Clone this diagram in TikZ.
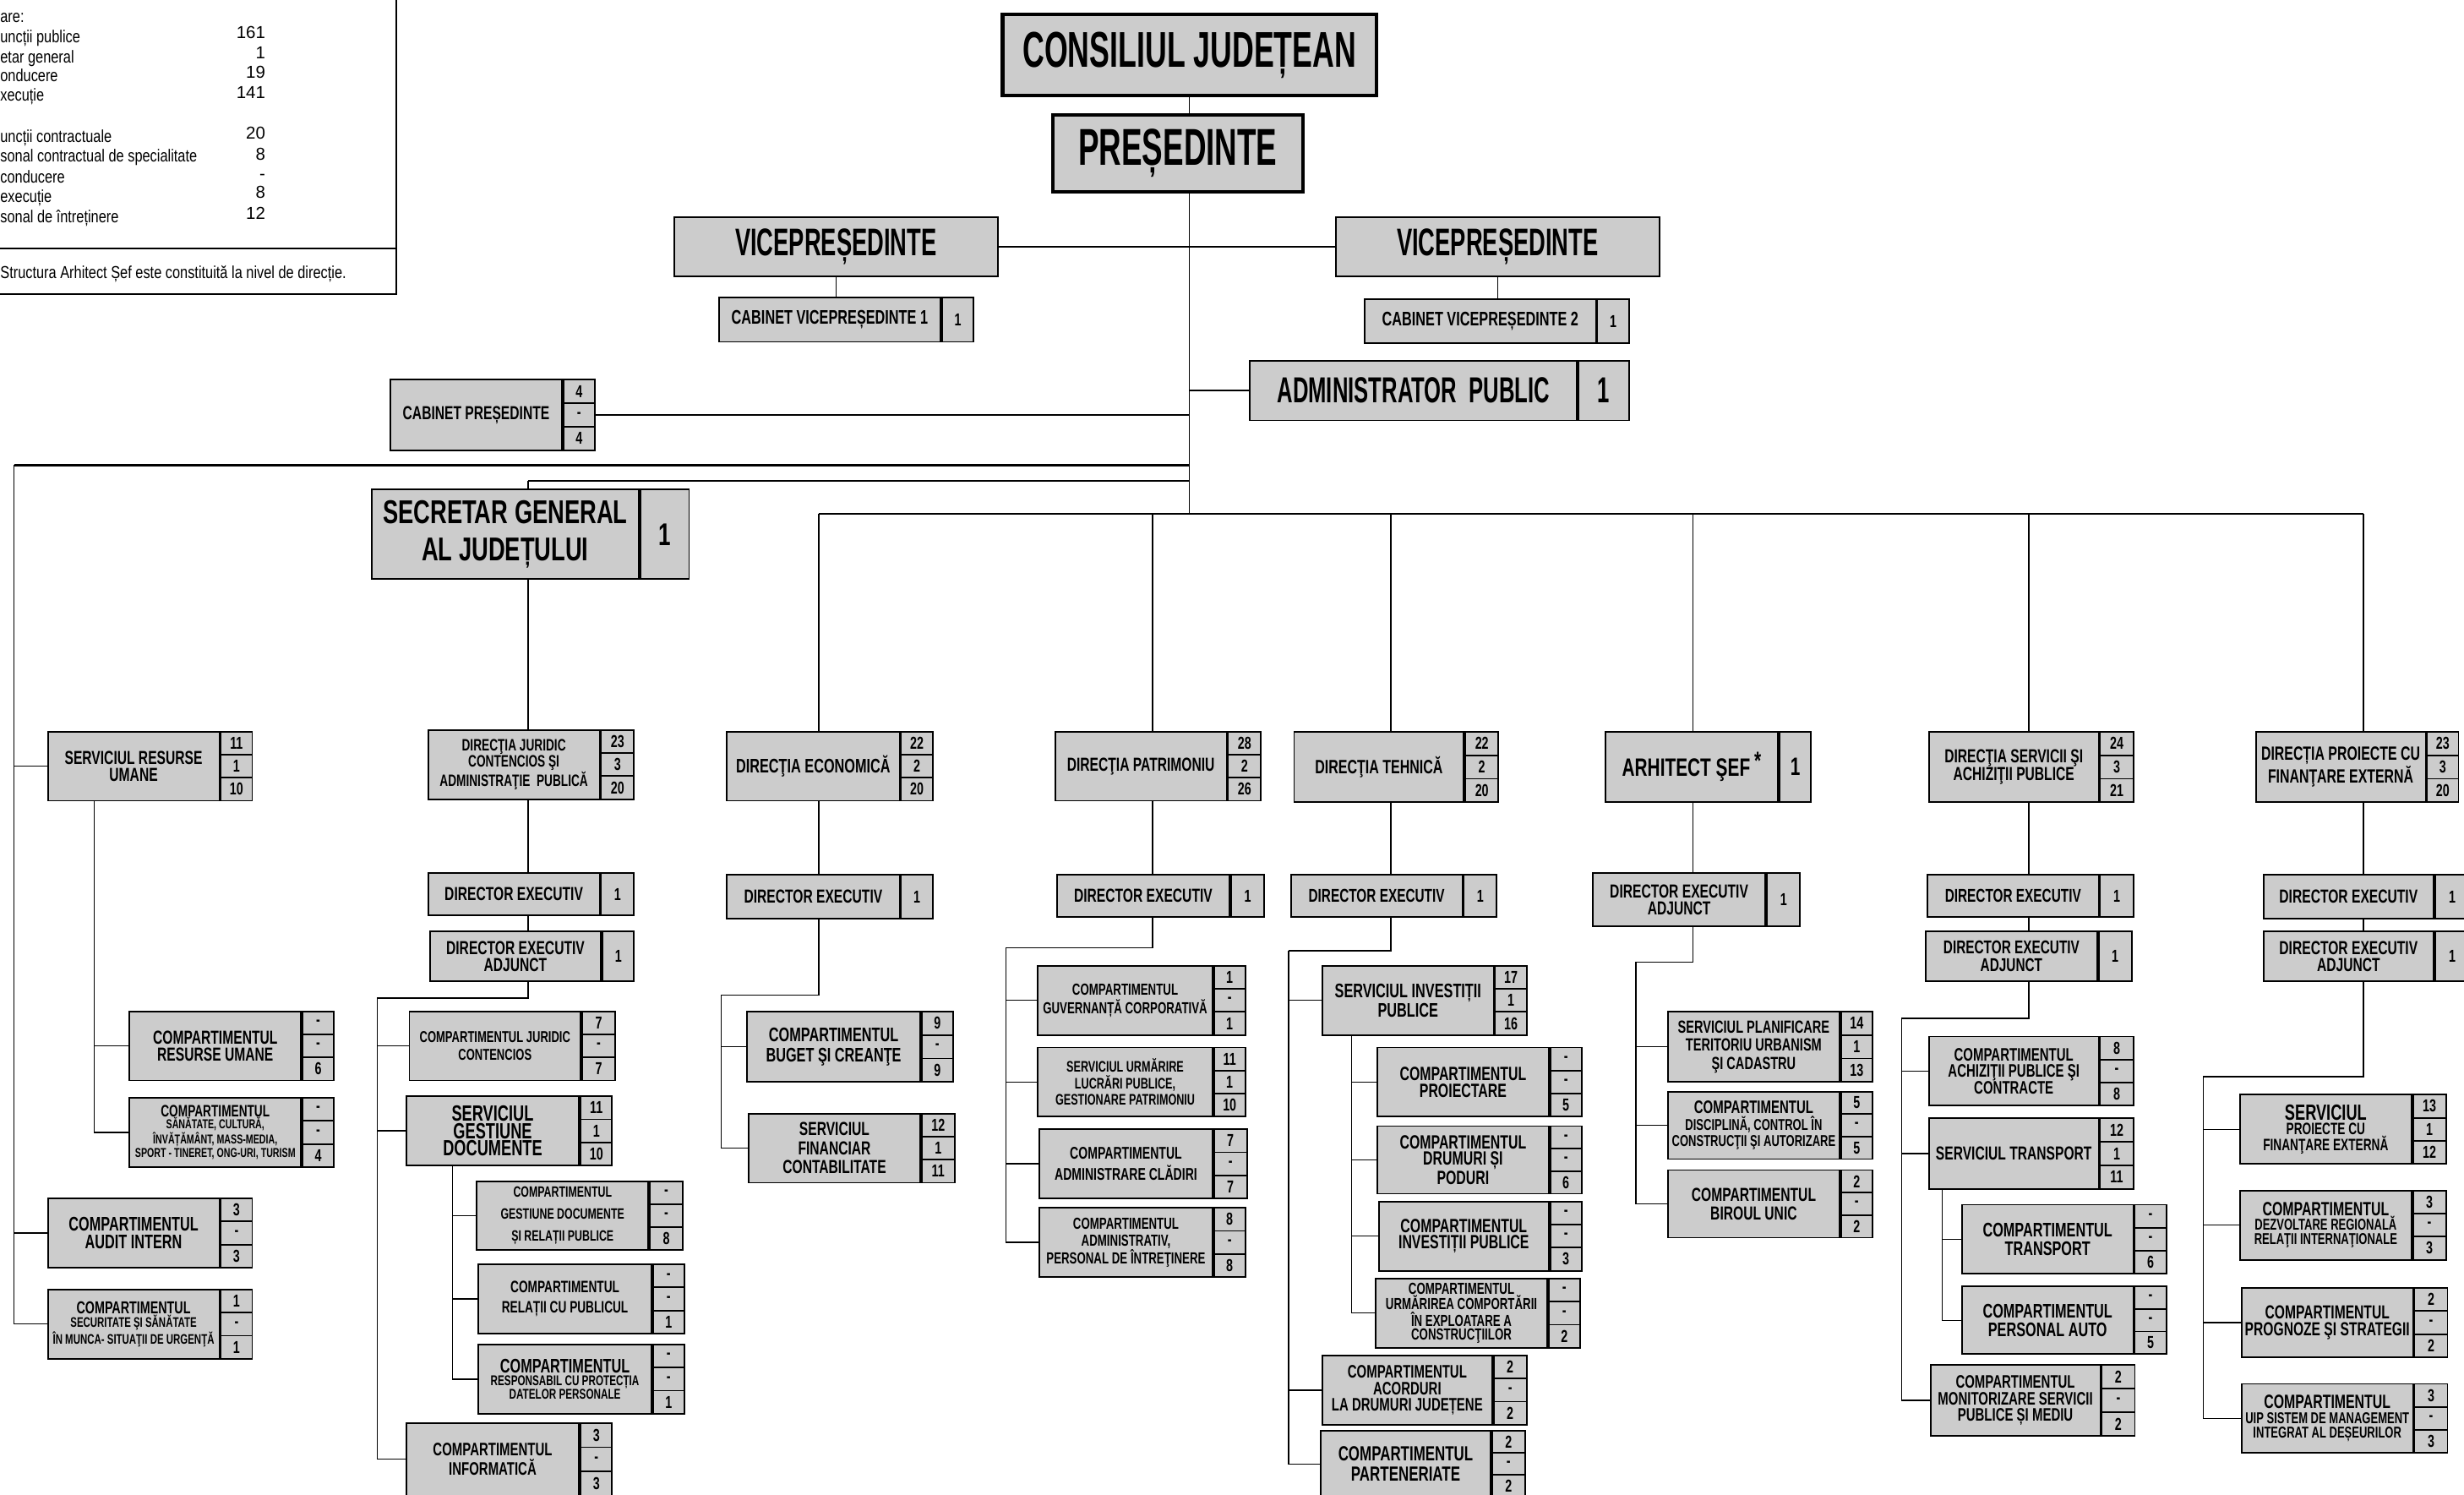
\documentclass[tikz,border=0pt]{standalone}
\usepackage{fontspec}
\setmainfont{Liberation Sans}
\newfontfamily\hdfont[FakeStretch=0.6]{Liberation Sans}
\newfontfamily\bxfont[FakeStretch=0.7]{Liberation Sans}
\newfontfamily\lgfont[FakeStretch=0.8]{Liberation Sans}
\usetikzlibrary{calc}
\definecolor{boxgray}{RGB}{204,204,204}
\pgfdeclarelayer{bg}
\pgfsetlayers{bg,main}

% name, left, top, label width, number width, height, options, text, numbers
\newcommand{\orgunit}[9]{%
  \pgfmathsetmacro\twd{#4-2}%
  \node[unit,#7,anchor=north west,minimum width=#4pt,minimum height=#6pt,text width=\twd pt] (#1) at (#2,#3) {#8};
  \foreach \nm [count=\i] in {#9} {\xdef\ncell{\i}}%
  \pgfmathsetmacro\cellh{#6/\ncell}%
  \foreach \nm [count=\i] in {#9} {%
    \node[numcell,anchor=north west,minimum width=#5pt,minimum height=\cellh pt] (#1-\i) at ($(#1.north east)+(0,{(\i-1)*\cellh})$) {\nm};
  }%
}

\begin{document}
\begin{tikzpicture}[x=1pt,y=-1pt]
\tikzstyle{unit} = [draw, fill=boxgray, line width=1pt, inner sep=1pt, align=flush center, font=\bxfont\bfseries\fontsize{11}{11}\selectfont]
\tikzstyle{numcell} = [draw, fill=boxgray, line width=1pt, inner sep=0pt, font=\bxfont\bfseries\fontsize{11}{11}\selectfont]
\tikzstyle{conn} = [line width=0.7pt]
\tikzstyle{bus} = [line width=1.1pt]
\tikzstyle{lgtext} = [inner sep=0pt, font=\lgfont\fontsize{11}{11}\selectfont]
\tikzstyle{lgnum} = [inner sep=0pt, font=\fontsize{11}{11}\selectfont]
\tikzset{fz/.style 2 args={font=\bxfont\bfseries\fontsize{#1}{#2}\selectfont},
  hd/.style 2 args={font=\hdfont\bfseries\fontsize{#1}{#2}\selectfont}}

\path[use as bounding box] (0,0) rectangle (1568,951);
\clip (0,0) rectangle (1568,951);

% legenda
\draw[line width=1pt] (-2,158) -- (252,158);
\draw[line width=1pt] (-2,187) -- (252,187) -- (252,-2);
\node[lgtext, anchor=base west] (lg1) at (0,14.3) {are:};
\node[lgtext, anchor=base west] (lg2) at (0,26.9) {uncții publice};
\node[lgtext, anchor=base west] (lg3) at (0,40.3) {etar general};
\node[lgtext, anchor=base west] (lg4) at (0,52) {onducere};
\node[lgtext, anchor=base west] (lg5) at (0,64.5) {xecuție};
\node[lgtext, anchor=base west] (lg6) at (0,90.5) {uncții contractuale};
\node[lgtext, anchor=base west] (lg7) at (0,103) {sonal contractual de specialitate};
\node[lgtext, anchor=base west] (lg8) at (0,116.5) {conducere};
\node[lgtext, anchor=base west] (lg9) at (0,128.7) {execuție};
\node[lgtext, anchor=base west] (lg10) at (0,141.6) {sonal de întreținere};
\foreach \v/\y [count=\k] in {161/24.2, 1/37.6, 19/50, 141/62.7, 20/88.7, 8/101.8, -/114.5, 8/126.3, 12/139.4}
  \node[lgnum, anchor=base east] (lgn\k) at (169,\y) {\v};
\node[lgtext, anchor=base west] (lgnote) at (0,177.4) {Structura Arhitect Șef este constituită la nivel de direcție.};

% conducere
\node[unit, hd={32}{32}, line width=2.2pt, minimum width=238pt, minimum height=52pt] (cj) at (757,35) {CONSILIUL JUDEȚEAN};
\node[unit, hd={33}{33}, line width=2.2pt, minimum width=159pt, minimum height=49pt] (pres) at (749.5,97.5) {PREȘEDINTE};
\node[unit, hd={24.5}{24.5}, line width=1.2pt, minimum width=206pt, minimum height=38pt] (vpa) at (532,157) {VICEPREȘEDINTE};
\node[unit, hd={24.5}{24.5}, line width=1.2pt, minimum width=206pt, minimum height=38pt] (vpb) at (953,157) {VICEPREȘEDINTE};
\orgunit{cabvp1}{457}{189}{141}{20}{28}{fz={12.5}{12}}{CABINET VICEPREȘEDINTE 1}{1}
\orgunit{cabvp2}{868}{190}{147}{20}{28}{fz={12.5}{12}}{CABINET VICEPREȘEDINTE 2}{1}
\orgunit{admpub}{795}{229}{208}{32}{38}{hd={23}{23}}{ADMINISTRATOR\ \ PUBLIC}{{\hdfont\bfseries\fontsize{23}{23}\selectfont 1}}
\orgunit{cabpres}{248}{241}{109}{20}{45}{fz={12}{12}}{CABINET PREȘEDINTE}{4,-,4}
\orgunit{sg}{236}{311}{170}{31}{57}{fz={21}{24}}{SECRETAR GENERAL\\AL JUDEȚULUI}{{\fontsize{20}{20}\selectfont 1}}

% resurse umane, audit
\orgunit{sru}{30}{465}{109}{20}{44}{fz={12}{11}}{SERVICIUL RESURSE\\UMANE}{11,1,10}
\orgunit{crum}{82}{643}{109}{20}{44}{fz={12}{11}}{COMPARTIMENTUL\\RESURSE UMANE}{-,-,6}
\orgunit{csan}{82}{698}{109}{20}{44}{fz={10.5}{9}}{COMPARTIMENTUL\par{\fontsize{8.2}{7.5}\selectfont SĂNĂTATE, CULTURĂ,\\ÎNVĂȚĂMÂNT, MASS-MEDIA,\\SPORT - TINERET, ONG-URI, TURISM\par}}{-,-,4}
\orgunit{audit}{30}{762}{109}{20}{44}{fz={12.5}{11}}{COMPARTIMENTUL\\AUDIT INTERN}{3,-,3}
\orgunit{secur}{30}{820}{109}{20}{44}{fz={11}{10}}{COMPARTIMENTUL\par{\fontsize{8.8}{8.5}\selectfont SECURITATE ŞI SĂNĂTATE\\ÎN MUNCA- SITUAŢII DE URGENŢĂ\par}}{1,-,1}

% secretar general
\orgunit{dj}{272}{464}{109}{21}{44}{fz={10.5}{10}}{DIRECŢIA JURIDIC\\CONTENCIOS ŞI\\ADMINISTRAŢIE\ \ PUBLICĂ}{23,3,20}
\orgunit{dexB}{272}{555}{109}{21}{27}{fz={12}{12}}{DIRECTOR EXECUTIV}{1}
\orgunit{dadjB}{273}{592}{109}{20}{32}{fz={12}{11}}{DIRECTOR EXECUTIV\\ADJUNCT}{1}
\orgunit{cjc}{260}{643}{109}{21}{44}{fz={10}{11}}{COMPARTIMENTUL JURIDIC\\CONTENCIOS}{7,-,7}
\orgunit{sgd}{258}{697}{110}{20}{44}{fz={14}{11}}{SERVICIUL\\GESTIUNE\\DOCUMENTE}{11,1,10}
\orgunit{cgd}{303}{751}{109}{21}{44}{fz={9.5}{14}}{COMPARTIMENTUL\\GESTIUNE DOCUMENTE\\ȘI RELAȚII PUBLICE}{-,-,8}
\orgunit{crp}{304}{804}{110}{20}{44}{fz={10.5}{13}}{COMPARTIMENTUL\\RELAȚII CU PUBLICUL}{-,-,1}
\orgunit{cpd}{304}{855}{110}{20}{44}{fz={12.5}{11}}{COMPARTIMENTUL\par{\fontsize{9}{8.5}\selectfont RESPONSABIL CU PROTECȚIA\\DATELOR PERSONALE\par}}{-,-,1}
\orgunit{cinf}{258}{905}{110}{20}{46}{fz={11.5}{12}}{COMPARTIMENTUL\\INFORMATICĂ}{3,-,3}

% directia economica
\orgunit{dec}{462}{465}{110}{20}{44}{fz={12.5}{12}}{DIRECŢIA ECONOMICĂ}{22,2,20}
\orgunit{dexC}{462}{556}{110}{20}{28}{fz={12}{12}}{DIRECTOR EXECUTIV}{1}
\orgunit{cbc}{475}{643}{110}{20}{45}{fz={12.5}{13}}{COMPARTIMENTUL\\BUGET ŞI CREANŢE}{9,-,9}
\orgunit{sfc}{476}{708}{109}{21}{44}{fz={12}{12}}{SERVICIUL\\FINANCIAR\\CONTABILITATE}{12,1,11}

% directia patrimoniu
\orgunit{dpat}{671}{465}{109}{21}{44}{fz={12}{12}}{DIRECŢIA PATRIMONIU}{28,2,26}
\orgunit{dexD}{672}{556}{110}{21}{27}{fz={12}{12}}{DIRECTOR EXECUTIV}{1}
\orgunit{cgc}{660}{614}{111}{20}{44}{fz={10.2}{12}}{COMPARTIMENTUL\\GUVERNANȚĂ CORPORATIVĂ}{1,-,1}
\orgunit{sulp}{660}{666}{111}{20}{44}{fz={9.7}{10.5}}{SERVICIUL URMĂRIRE\\LUCRĂRI PUBLICE,\\GESTIONARE PATRIMONIU}{11,1,10}
\orgunit{cac}{661}{718}{110}{21}{44}{fz={10.8}{13}}{COMPARTIMENTUL\\ADMINISTRARE CLĂDIRI}{7,-,7}
\orgunit{capi}{661}{768}{110}{20}{44}{fz={10.2}{11}}{COMPARTIMENTUL\\ADMINISTRATIV,\\PERSONAL DE ÎNTREŢINERE}{8,-,8}

% directia tehnica
\orgunit{dteh}{823}{465}{108}{21}{45}{fz={12.3}{12}}{DIRECŢIA TEHNICĂ}{22,2,20}
\orgunit{dexE}{821}{556}{109}{21}{27}{fz={11.8}{12}}{DIRECTOR EXECUTIV}{1}
\orgunit{sip}{841}{614}{109}{20}{44}{fz={12.5}{11}}{SERVICIUL INVESTIȚII\\PUBLICE}{17,1,16}
\orgunit{cpro}{876}{666}{109}{20}{44}{fz={12.2}{11}}{COMPARTIMENTUL\\PROIECTARE}{-,-,5}
\orgunit{cdp}{876}{716}{109}{20}{43}{fz={12.2}{10}}{COMPARTIMENTUL\\DRUMURI ȘI\\PODURI}{-,-,6}
\orgunit{cip}{877}{764}{108}{20}{44}{fz={12.2}{10}}{COMPARTIMENTUL\\INVESTIȚII PUBLICE}{-,-,3}
\orgunit{curm}{875}{813}{109}{20}{44}{fz={10.2}{9}}{COMPARTIMENTUL\\URMĂRIREA COMPORTĂRII\\ÎN EXPLOATARE A\\CONSTRUCŢIILOR}{-,-,2}
\orgunit{cadj}{841}{862}{108}{21}{44}{fz={11.5}{10.5}}{COMPARTIMENTUL\\ACORDURI\\LA DRUMURI JUDEȚENE}{2,-,2}
\orgunit{cpart}{840}{910}{108}{21}{42}{fz={13}{13}}{COMPARTIMENTUL\\PARTENERIATE}{2,-,2}

% arhitect sef
\orgunit{arh}{1021}{465}{110}{20}{45}{fz={16}{16}}{ARHITECT ŞEF\,\raisebox{4pt}{*}}{{\fontsize{16}{16}\selectfont 1}}
\orgunit{dadjF}{1013}{555}{110}{21}{34}{fz={12}{11}}{DIRECTOR EXECUTIV\\ADJUNCT}{1}
\orgunit{spuc}{1061}{643}{109}{20}{45}{fz={11.2}{11.5}}{SERVICIUL PLANIFICARE\\TERITORIU URBANISM\\ŞI CADASTRU}{14,1,13}
\orgunit{cdis}{1061}{694}{109}{20}{43}{fz={11.5}{11}}{COMPARTIMENTUL\par{\fontsize{10}{10.5}\selectfont DISCIPLINĂ, CONTROL ÎN\\CONSTRUCŢII ŞI AUTORIZARE\par}}{5,-,5}
\orgunit{cbu}{1061}{744}{109}{20}{43}{fz={12}{12}}{COMPARTIMENTUL\\BIROUL UNIC}{2,-,2}

% directia servicii
\orgunit{dsap}{1227}{465}{108}{21}{45}{fz={12}{11}}{DIRECŢIA SERVICII ŞI\\ACHIZIŢII PUBLICE}{24,3,21}
\orgunit{dexG}{1226}{556}{109}{21}{27}{fz={11.8}{12}}{DIRECTOR EXECUTIV}{1}
\orgunit{dadjG}{1225}{592}{109}{21}{32}{fz={11.8}{11}}{DIRECTOR EXECUTIV\\ADJUNCT}{1}
\orgunit{capc}{1227}{659}{108}{21}{44}{fz={11.5}{10.5}}{COMPARTIMENTUL\\ACHIZIŢII PUBLICE ŞI\\CONTRACTE}{8,-,8}
\orgunit{strans}{1227}{711}{108}{21}{45}{fz={12}{12}}{SERVICIUL TRANSPORT}{12,1,11}
\orgunit{ctr}{1248}{766}{109}{20}{44}{fz={12.5}{12}}{COMPARTIMENTUL\\TRANSPORT}{-,-,6}
\orgunit{cpa}{1248}{818}{109}{20}{43}{fz={12.5}{12}}{COMPARTIMENTUL\\PERSONAL AUTO}{-,-,5}
\orgunit{cmon}{1228}{868}{108}{21}{45}{fz={11.5}{10.5}}{COMPARTIMENTUL\\MONITORIZARE SERVICII\\PUBLICE ȘI MEDIU}{2,-,2}

% directia proiecte
\orgunit{dpfe}{1435}{465}{108}{20}{45}{fz={12.2}{10.5}}{DIRECȚIA PROIECTE CU\\FINANŢARE EXTERNĂ}{23,3,20}
\orgunit{dexH}{1440}{556}{108}{22}{28}{fz={12}{12}}{DIRECTOR EXECUTIV}{1}
\orgunit{dadjH}{1440}{592}{108}{22}{32}{fz={12}{11}}{DIRECTOR EXECUTIV\\ADJUNCT}{1}
\orgunit{spfe}{1425}{696}{109}{21}{44}{fz={14}{11}}{SERVICIUL\par{\fontsize{10.5}{9}\selectfont PROIECTE CU\\FINANŢARE EXTERNĂ\par}}{13,1,12}
\orgunit{cdr}{1425}{757}{109}{21}{44}{fz={12.2}{10}}{COMPARTIMENTUL\par{\fontsize{10}{9}\selectfont DEZVOLTARE REGIONALĂ\\RELAŢII INTERNAŢIONALE\par}}{3,-,3}
\orgunit{cps}{1426}{819}{109}{21}{44}{fz={12}{11}}{COMPARTIMENTUL\\PROGNOZE ŞI STRATEGII}{2,-,2}
\orgunit{cuip}{1426}{880}{109}{21}{44}{fz={12.2}{10}}{COMPARTIMENTUL\par{\fontsize{10}{9.5}\selectfont UIP SISTEM DE MANAGEMENT\\INTEGRAT AL DEȘEURILOR\par}}{3,-,3}

\begin{pgfonlayer}{bg}
\coordinate (tr) at (757,327);
\draw[conn] (cj.south) -- (tr);
\draw[conn] (vpa.east) -- (vpb.west);
\draw[conn] (vpa.south) -- (cabvp1.north -| vpa.south);
\draw[conn] (vpb.south) -- (cabvp2.north -| vpb.south);
\draw[conn] (admpub.west) -- (admpub.west -| tr);
\draw[conn] (cabpres-2.east) -- (cabpres-2.east -| tr);

\coordinate (bA) at (9,296);
\draw[bus] (bA -| tr) -- (bA);
\foreach \n in {sru,audit,secur} \draw[conn] (bA) |- (\n.west);
\coordinate (kA) at (60,509);
\foreach \n in {crum,csan} \draw[conn] (kA) |- (\n.west);

\coordinate (bB) at (336,306);
\draw[bus] (bB -| tr) -- (bB);
\draw[conn] (bB) -- (sg.north -| bB);
\draw[conn] (sg.south -| bB) -- (dj.north -| bB);
\draw[conn] (dj.south -| bB) -- (dexB.north -| bB);
\draw[conn] (dexB.south -| bB) -- (dadjB.north -| bB);
\coordinate (kB) at (240,635);
\draw[conn] (dadjB.south -| bB) |- (kB);
\foreach \n in {cjc,sgd,cinf} \draw[conn] (kB) |- (\n.west);
\coordinate (kB2) at (288,741);
\foreach \n in {cgd,crp,cpd} \draw[conn] (kB2) |- (\n.west);

\coordinate (xC) at (521,327);
\coordinate (xD) at (733.5,327);
\coordinate (xE) at (885,327);
\coordinate (xF) at (1077.5,327);
\coordinate (xG) at (1291,327);
\coordinate (xH) at (1504,327);
\draw[bus] (xC) -- (xH);
\foreach \c/\n in {xC/dec,xD/dpat,xE/dteh,xF/arh,xG/dsap,xH/dpfe}
  \draw[conn] (\c) -- (\n.north -| \c);

\draw[conn] (dec.south -| xC) -- (dexC.north -| xC);
\coordinate (kC) at (459,633);
\draw[conn] (dexC.south -| xC) |- (kC);
\foreach \n in {cbc,sfc} \draw[conn] (kC) |- (\n.west);

\draw[conn] (dpat.south -| xD) -- (dexD.north -| xD);
\coordinate (kD) at (640,603);
\draw[conn] (dexD.south -| xD) |- (kD);
\foreach \n in {cgc,sulp,cac,capi} \draw[conn] (kD) |- (\n.west);

\draw[conn] (dteh.south -| xE) -- (dexE.north -| xE);
\coordinate (kE) at (820,605);
\draw[conn] (dexE.south -| xE) |- (kE);
\foreach \n in {sip,cadj,cpart} \draw[conn] (kE) |- (\n.west);
\coordinate (kE2) at (860,658);
\foreach \n in {cpro,cdp,cip,curm} \draw[conn] (kE2) |- (\n.west);

\draw[conn] (arh.south -| xF) -- (dadjF.north -| xF);
\coordinate (kF) at (1041,612);
\draw[conn] (dadjF.south -| xF) |- (kF);
\foreach \n in {spuc,cdis,cbu} \draw[conn] (kF) |- (\n.west);

\draw[conn] (dsap.south -| xG) -- (dexG.north -| xG);
\draw[conn] (dexG.south -| xG) -- (dadjG.north -| xG);
\coordinate (kG) at (1210,648);
\draw[conn] (dadjG.south -| xG) |- (kG);
\foreach \n in {capc,strans,cmon} \draw[conn] (kG) |- (\n.west);
\coordinate (kG2) at (1236,756);
\foreach \n in {ctr,cpa} \draw[conn] (kG2) |- (\n.west);

\draw[conn] (dpfe.south -| xH) -- (dexH.north -| xH);
\draw[conn] (dexH.south -| xH) -- (dadjH.north -| xH);
\coordinate (kH) at (1402,685);
\draw[conn] (dadjH.south -| xH) |- (kH);
\foreach \n in {spfe,cdr,cps,cuip} \draw[conn] (kH) |- (\n.west);
\end{pgfonlayer}
\end{tikzpicture}
\end{document}
